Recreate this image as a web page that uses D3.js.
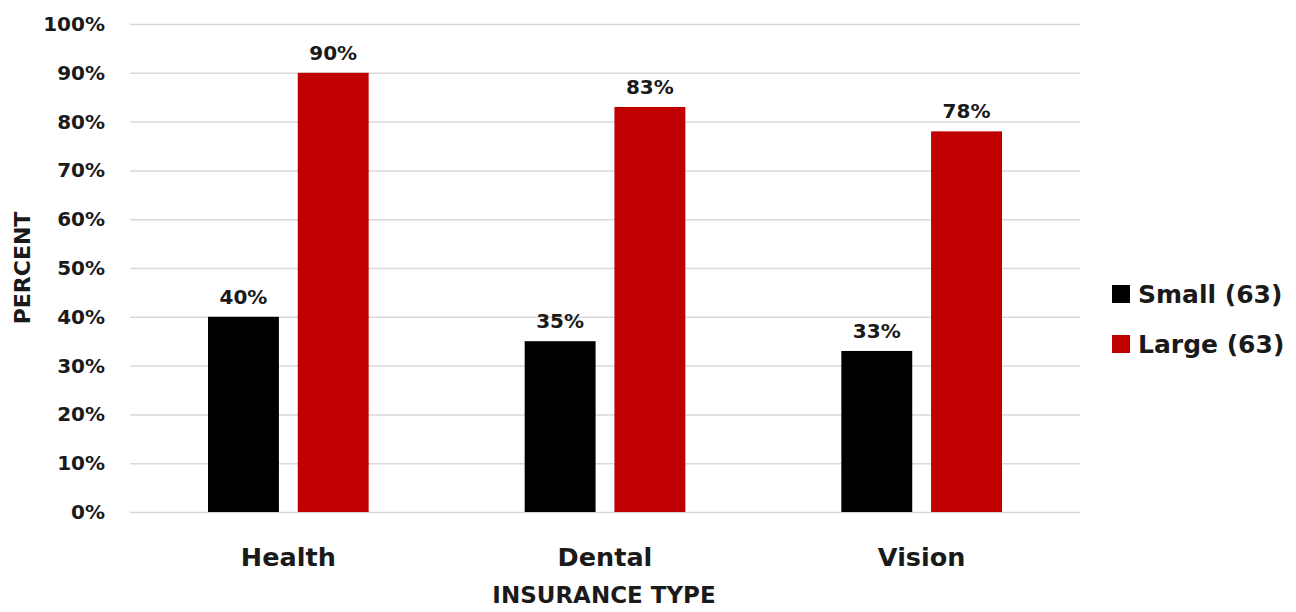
<!DOCTYPE html>
<html>
<head>
<meta charset="utf-8">
<script src="https://cdn.jsdelivr.net/npm/d3@7"></script>
<style>
  html, body { margin: 0; padding: 0; background: #ffffff; }
  svg text { font-family: "DejaVu Sans", "Noto Sans", sans-serif; font-weight: 700; fill: #1a1a1a; }
</style>
</head>
<body>
<svg id="chart" width="1296" height="612"></svg>
<script>
// Share of employers offering each insurance type, by company size
const categories = ["Health", "Dental", "Vision"];
const seriesNames = ["Small (63)", "Large (63)"];
const smallValues = [40, 35, 33];
const largeValues = [90, 83, 78];
const yTicks = [0, 10, 20, 30, 40, 50, 60, 70, 80, 90, 100];
const colors = ["#000000", "#C00000"];

const svg = d3.select("#chart");
const plot = { left: 130, right: 1080, top: 24, bottom: 512 };

const x = d3.scaleBand().domain(categories).range([plot.left, plot.right]).paddingInner(0).paddingOuter(0);
const xInner = d3.scaleBand().domain(seriesNames).range([78, x.bandwidth() - 78]).paddingInner(0.21);
const y = d3.scaleLinear().domain([0, 100]).range([plot.bottom, plot.top]);

// Horizontal gridlines and percentage labels
const yAxis = d3.axisLeft(y).tickValues(yTicks).tickFormat(d => d + "%")
  .tickSize(-(plot.right - plot.left)).tickPadding(25);
const gy = svg.append("g").attr("transform", `translate(${plot.left},0)`).call(yAxis);
gy.select(".domain").remove();
gy.selectAll(".tick line").attr("stroke", "#d9d9d9").attr("stroke-width", 1.5);
gy.selectAll(".tick text").style("font-size", "20px").attr("fill", "#1a1a1a");

// Bars
const rows = categories.map((c, i) => ({ cat: c, vals: [smallValues[i], largeValues[i]] }));
const groups = svg.append("g").selectAll("g").data(rows).join("g")
  .attr("transform", d => `translate(${x(d.cat)},0)`);

groups.selectAll("rect").data(d => d.vals.map((v, j) => ({ v, s: seriesNames[j], j })))
  .join("rect")
  .attr("x", d => xInner(d.s))
  .attr("width", xInner.bandwidth())
  .attr("y", d => y(d.v))
  .attr("height", d => y(0) - y(d.v))
  .attr("fill", d => colors[d.j]);

// Value labels above bars
groups.selectAll("text.val").data(d => d.vals.map((v, j) => ({ v, s: seriesNames[j] })))
  .join("text")
  .attr("class", "val")
  .attr("x", d => xInner(d.s) + xInner.bandwidth() / 2)
  .attr("y", d => y(d.v) - 13)
  .attr("text-anchor", "middle")
  .style("font-size", "20px")
  .text(d => d.v + "%");

// Category labels
svg.append("g").selectAll("text").data(categories).join("text")
  .attr("x", d => x(d) + x.bandwidth() / 2)
  .attr("y", 566)
  .attr("text-anchor", "middle")
  .style("font-size", "25.5px")
  .text(d => d);

// Axis titles
svg.append("text")
  .attr("transform", "translate(30,268) rotate(-90)")
  .attr("text-anchor", "middle")
  .style("font-size", "22px")
  .text("PERCENT");

svg.append("text")
  .attr("x", (plot.left + plot.right) / 2 - 1)
  .attr("y", 603)
  .attr("text-anchor", "middle")
  .style("font-size", "23px")
  .text("INSURANCE TYPE");

// Legend
const legend = svg.append("g").attr("transform", "translate(1112,0)");
const legendY = [294, 344];
seriesNames.forEach((name, i) => {
  legend.append("rect").attr("x", 0).attr("y", legendY[i] - 9).attr("width", 18).attr("height", 18).attr("fill", colors[i]);
  legend.append("text").attr("x", 26).attr("y", legendY[i] + 9)
    .style("font-size", "25px").text(name);
});
</script>
</body>
</html>
